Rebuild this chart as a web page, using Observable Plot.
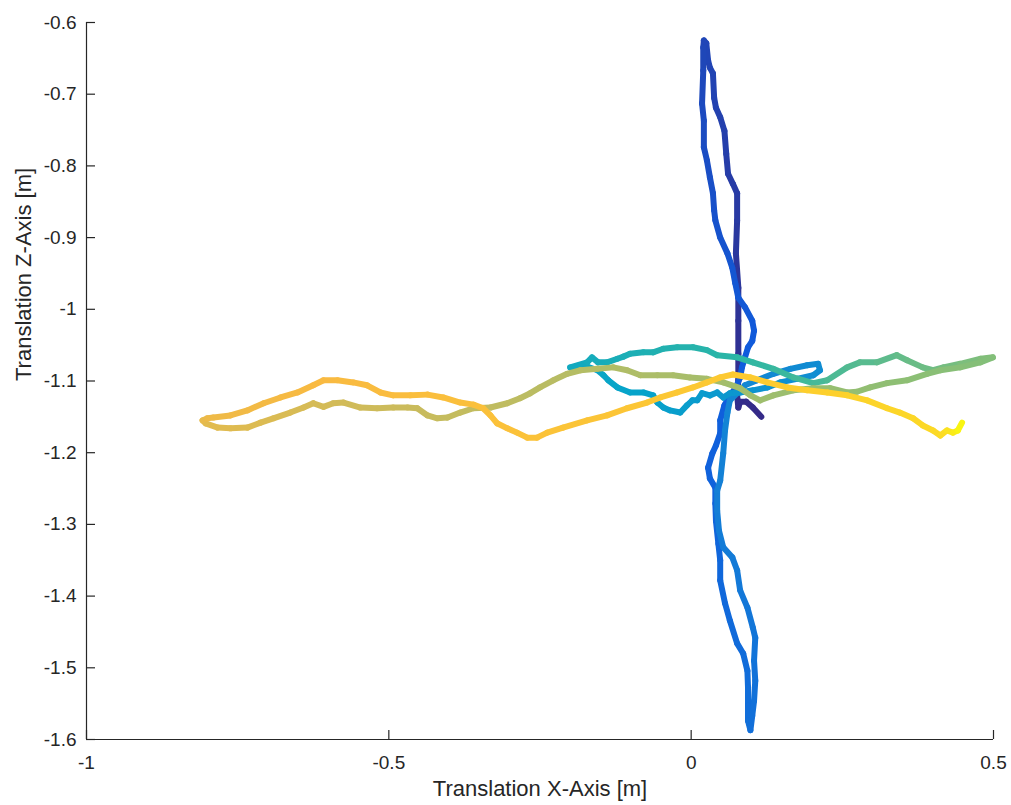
<!DOCTYPE html>
<html>
<head>
<meta charset="utf-8">
<script src="https://cdn.jsdelivr.net/npm/d3@7"></script>
<script src="https://cdn.jsdelivr.net/npm/@observablehq/plot@0.6"></script>
<style>
  html, body { margin: 0; padding: 0; background: #fff; }
  #chart { width: 1011px; height: 805px; }
</style>
</head>
<body>
<div id="chart"></div>
<script>
// Axis ticks
const xTicks = [-1, -0.5, 0, 0.5];
const yTicks = [-1.6, -1.5, -1.4, -1.3, -1.2, -1.1, -1, -0.9, -0.8, -0.7, -0.6];
const xLabel = "Translation X-Axis [m]";
const yLabel = "Translation Z-Axis [m]";

// Parula-like colour map stops (positions and colours)
const parulaPos = [0, 0.125, 0.25, 0.375, 0.5, 0.625, 0.75, 0.82, 0.9, 1];
const parula = ["#352a87", "#0f5cdd", "#1481d6", "#06a4ca", "#2eb7a4", "#87bf77", "#d1bb59", "#f9ba41", "#fdcb30", "#f9fb0e"];

// Trajectory legs: [x, z] in metres
const darkBlueUp = [
  [0.116,-1.150],[0.102,-1.137],[0.091,-1.129],[0.081,-1.129],[0.078,-1.137],[0.076,-1.120],
  [0.078,-1.099],[0.078,-1.062],[0.078,-1.016],[0.078,-0.970],[0.074,-0.922],[0.076,-0.876],
  [0.076,-0.838],[0.069,-0.825],[0.061,-0.811],[0.058,-0.783],[0.055,-0.751],[0.048,-0.732],
  [0.041,-0.719],[0.038,-0.705],[0.036,-0.671],[0.031,-0.663],[0.028,-0.653],[0.025,-0.629],[0.021,-0.625]
];
const blueDown = [
  [0.020,-0.635],[0.020,-0.667],[0.018,-0.713],[0.021,-0.737],[0.021,-0.774],[0.026,-0.792],
  [0.031,-0.816],[0.036,-0.838],[0.038,-0.862],[0.040,-0.876],[0.048,-0.900],[0.060,-0.922],
  [0.068,-0.942],[0.073,-0.964],[0.078,-0.984],[0.089,-0.997],[0.101,-1.016],[0.104,-1.030],
  [0.101,-1.044],[0.094,-1.053],[0.089,-1.067],[0.084,-1.081],[0.081,-1.095],[0.074,-1.109],
  [0.064,-1.120],[0.055,-1.134],[0.048,-1.155],[0.048,-1.173],[0.041,-1.190],[0.035,-1.201],
  [0.028,-1.221],[0.031,-1.236],[0.040,-1.249],[0.040,-1.271],[0.041,-1.295],[0.045,-1.327],
  [0.048,-1.350],[0.048,-1.378],[0.056,-1.410],[0.064,-1.434],[0.076,-1.466],[0.086,-1.480],
  [0.093,-1.504],[0.094,-1.527],[0.094,-1.553],[0.094,-1.574],[0.098,-1.587]
];
const blueUpToLoop = [
  [0.101,-1.567],[0.104,-1.546],[0.106,-1.518],[0.104,-1.490],[0.106,-1.458],[0.102,-1.444],
  [0.093,-1.416],[0.081,-1.392],[0.076,-1.364],[0.068,-1.346],[0.053,-1.332],[0.046,-1.309],
  [0.043,-1.281],[0.043,-1.253],[0.048,-1.239],[0.053,-1.201],[0.056,-1.169],[0.060,-1.144],
  [0.064,-1.127],[0.089,-1.106],[0.109,-1.099],[0.136,-1.090],[0.164,-1.083],[0.192,-1.078],[0.210,-1.076]
];
const cyanWest = [
  [0.213,-1.085],[0.202,-1.092],[0.175,-1.097],[0.147,-1.102],[0.126,-1.109],[0.102,-1.113],
  [0.081,-1.116],[0.064,-1.117],[0.053,-1.123],[0.043,-1.116],[0.031,-1.120],[0.018,-1.117],
  [0.010,-1.127],[0.002,-1.127],[-0.007,-1.134],[-0.018,-1.144],[-0.035,-1.141],[-0.046,-1.137],
  [-0.056,-1.130],[-0.063,-1.120],[-0.079,-1.116],[-0.101,-1.116],[-0.122,-1.109],[-0.137,-1.099],
  [-0.145,-1.092],[-0.155,-1.085],[-0.172,-1.080],[-0.187,-1.081],[-0.200,-1.081]
];
const greenEast = [
  [-0.172,-1.074],[-0.164,-1.067],[-0.154,-1.074],[-0.139,-1.074],[-0.122,-1.069],[-0.112,-1.066],
  [-0.101,-1.062],[-0.079,-1.060],[-0.063,-1.060],[-0.046,-1.055],[-0.023,-1.053],[0.003,-1.053],
  [0.026,-1.057],[0.043,-1.064],[0.076,-1.067],[0.102,-1.074],[0.136,-1.083],[0.169,-1.095],
  [0.202,-1.103],[0.225,-1.099],[0.258,-1.081],[0.279,-1.074],[0.307,-1.074],[0.340,-1.064],
  [0.357,-1.071],[0.383,-1.081],[0.400,-1.085],[0.417,-1.081],[0.445,-1.076],[0.479,-1.069],[0.499,-1.067]
];
const oliveWest = [
  [0.478,-1.074],[0.445,-1.081],[0.412,-1.085],[0.390,-1.090],[0.357,-1.099],[0.324,-1.103],
  [0.296,-1.109],[0.274,-1.115],[0.258,-1.116],[0.230,-1.110],[0.202,-1.110],[0.169,-1.113],
  [0.136,-1.120],[0.114,-1.127],[0.098,-1.120],[0.081,-1.110],[0.053,-1.102],[0.026,-1.097],
  [-0.002,-1.095],[-0.030,-1.092],[-0.056,-1.092],[-0.084,-1.092],[-0.106,-1.085],[-0.129,-1.081],
  [-0.155,-1.083],[-0.183,-1.085],[-0.205,-1.090],[-0.228,-1.099],[-0.250,-1.109],[-0.266,-1.117],
  [-0.283,-1.124],[-0.304,-1.131],[-0.332,-1.137],[-0.360,-1.138],[-0.382,-1.144],[-0.403,-1.151],
  [-0.420,-1.152],[-0.436,-1.148],[-0.453,-1.138],[-0.469,-1.137],[-0.493,-1.137],[-0.519,-1.138],
  [-0.547,-1.137],[-0.575,-1.130],[-0.592,-1.131],[-0.608,-1.136],[-0.625,-1.131],[-0.641,-1.137],
  [-0.663,-1.144],[-0.691,-1.152],[-0.712,-1.158],[-0.734,-1.165],[-0.762,-1.166],[-0.783,-1.165],
  [-0.803,-1.159],[-0.808,-1.155]
];
const orangeEast = [
  [-0.800,-1.152],[-0.790,-1.151],[-0.762,-1.148],[-0.734,-1.141],[-0.707,-1.131],[-0.679,-1.123],
  [-0.651,-1.116],[-0.625,-1.106],[-0.608,-1.099],[-0.585,-1.099],[-0.559,-1.102],[-0.536,-1.106],
  [-0.514,-1.116],[-0.493,-1.120],[-0.464,-1.120],[-0.436,-1.119],[-0.410,-1.123],[-0.382,-1.130],
  [-0.360,-1.133],[-0.344,-1.138],[-0.332,-1.148],[-0.321,-1.159],[-0.304,-1.166],[-0.288,-1.172],
  [-0.271,-1.179],[-0.255,-1.179],[-0.238,-1.172],[-0.212,-1.165],[-0.172,-1.155],[-0.139,-1.148],
  [-0.106,-1.138],[-0.073,-1.130],[-0.051,-1.123],[-0.023,-1.116],[0.003,-1.109],[0.026,-1.102],
  [0.048,-1.095],[0.069,-1.091],[0.098,-1.095],[0.126,-1.102],[0.159,-1.109],[0.192,-1.113],
  [0.225,-1.116],[0.258,-1.120],[0.291,-1.127],[0.324,-1.138],[0.345,-1.144],[0.367,-1.152],
  [0.383,-1.162],[0.400,-1.169],[0.412,-1.176]
];
const yellowHook = [
  [0.423,-1.169],[0.433,-1.172],[0.441,-1.169],[0.448,-1.158]
];

const legs = [darkBlueUp, blueDown, blueUpToLoop, cyanWest, greenEast, oliveWest, orangeEast, yellowHook];
const legTimes = [[0, 0.07], [0.07, 0.19], [0.19, 0.29], [0.29, 0.40], [0.42, 0.62], [0.62, 0.78], [0.80, 0.93], [0.94, 1.0]];

// Build point sequence with time per point
const pts = [];
legs.forEach((leg, i) => {
  const [t0, t1] = legTimes[i];
  const cum = [0];
  for (let k = 1; k < leg.length; k++) {
    cum.push(cum[k - 1] + Math.hypot(leg[k][0] - leg[k - 1][0], leg[k][1] - leg[k - 1][1]));
  }
  const total = cum[cum.length - 1] || 1;
  leg.forEach((p, k) => pts.push({x: p[0], z: p[1], t: t0 + (t1 - t0) * cum[k] / total}));
});
const segs = [];
for (let k = 1; k < pts.length; k++) {
  segs.push({x1: pts[k - 1].x, y1: pts[k - 1].z, x2: pts[k].x, y2: pts[k].z, t: (pts[k - 1].t + pts[k].t) / 2});
}

const W = 1011, H = 805;
const mL = 86, mR = 18, mT = 22, mB = 66;
const innerW = W - mL - mR, innerH = H - mT - mB;
const ink = "#262626";

const chart = Plot.plot({
  width: W,
  height: H,
  marginLeft: mL,
  marginRight: mR,
  marginTop: mT,
  marginBottom: mB,
  style: {fontFamily: "'Liberation Sans', Arial, sans-serif", fontSize: "19px", color: ink, background: "#fff"},
  x: {domain: [-1, 0.5], label: null},
  y: {domain: [-1.6, -0.6], label: null},
  color: {
    type: "linear",
    domain: parulaPos,
    range: parula
  },
  marks: [
    Plot.link(segs, {x1: "x1", y1: "y1", x2: "x2", y2: "y2", stroke: "t", strokeWidth: 6, strokeLinecap: "round", strokeLinejoin: "round"}),
    Plot.ruleX([-1], {stroke: ink, strokeWidth: 1.2}),
    Plot.ruleY([-1.6], {stroke: ink, strokeWidth: 1.2}),
    Plot.tickX(xTicks, {x: d => d, insetTop: innerH - 9, stroke: ink, strokeWidth: 1.2}),
    Plot.tickY(yTicks, {y: d => d, insetRight: innerW - 9, stroke: ink, strokeWidth: 1.2}),
    Plot.axisX(xTicks, {tickSize: 0, tickPadding: 16, tickFormat: d => String(d), label: null, fill: ink, fontSize: 19}),
    Plot.axisY(yTicks, {tickSize: 0, tickPadding: 10, tickFormat: d => String(d), label: null, fill: ink, fontSize: 19}),
    Plot.text([xLabel], {frameAnchor: "bottom", text: d => d, dy: 56, fill: ink, fontSize: 22}),
    Plot.text([yLabel], {frameAnchor: "left", text: d => d, dx: -63, rotate: -90, fill: ink, fontSize: 22})
  ]
});
document.getElementById("chart").appendChild(chart);
</script>
</body>
</html>
